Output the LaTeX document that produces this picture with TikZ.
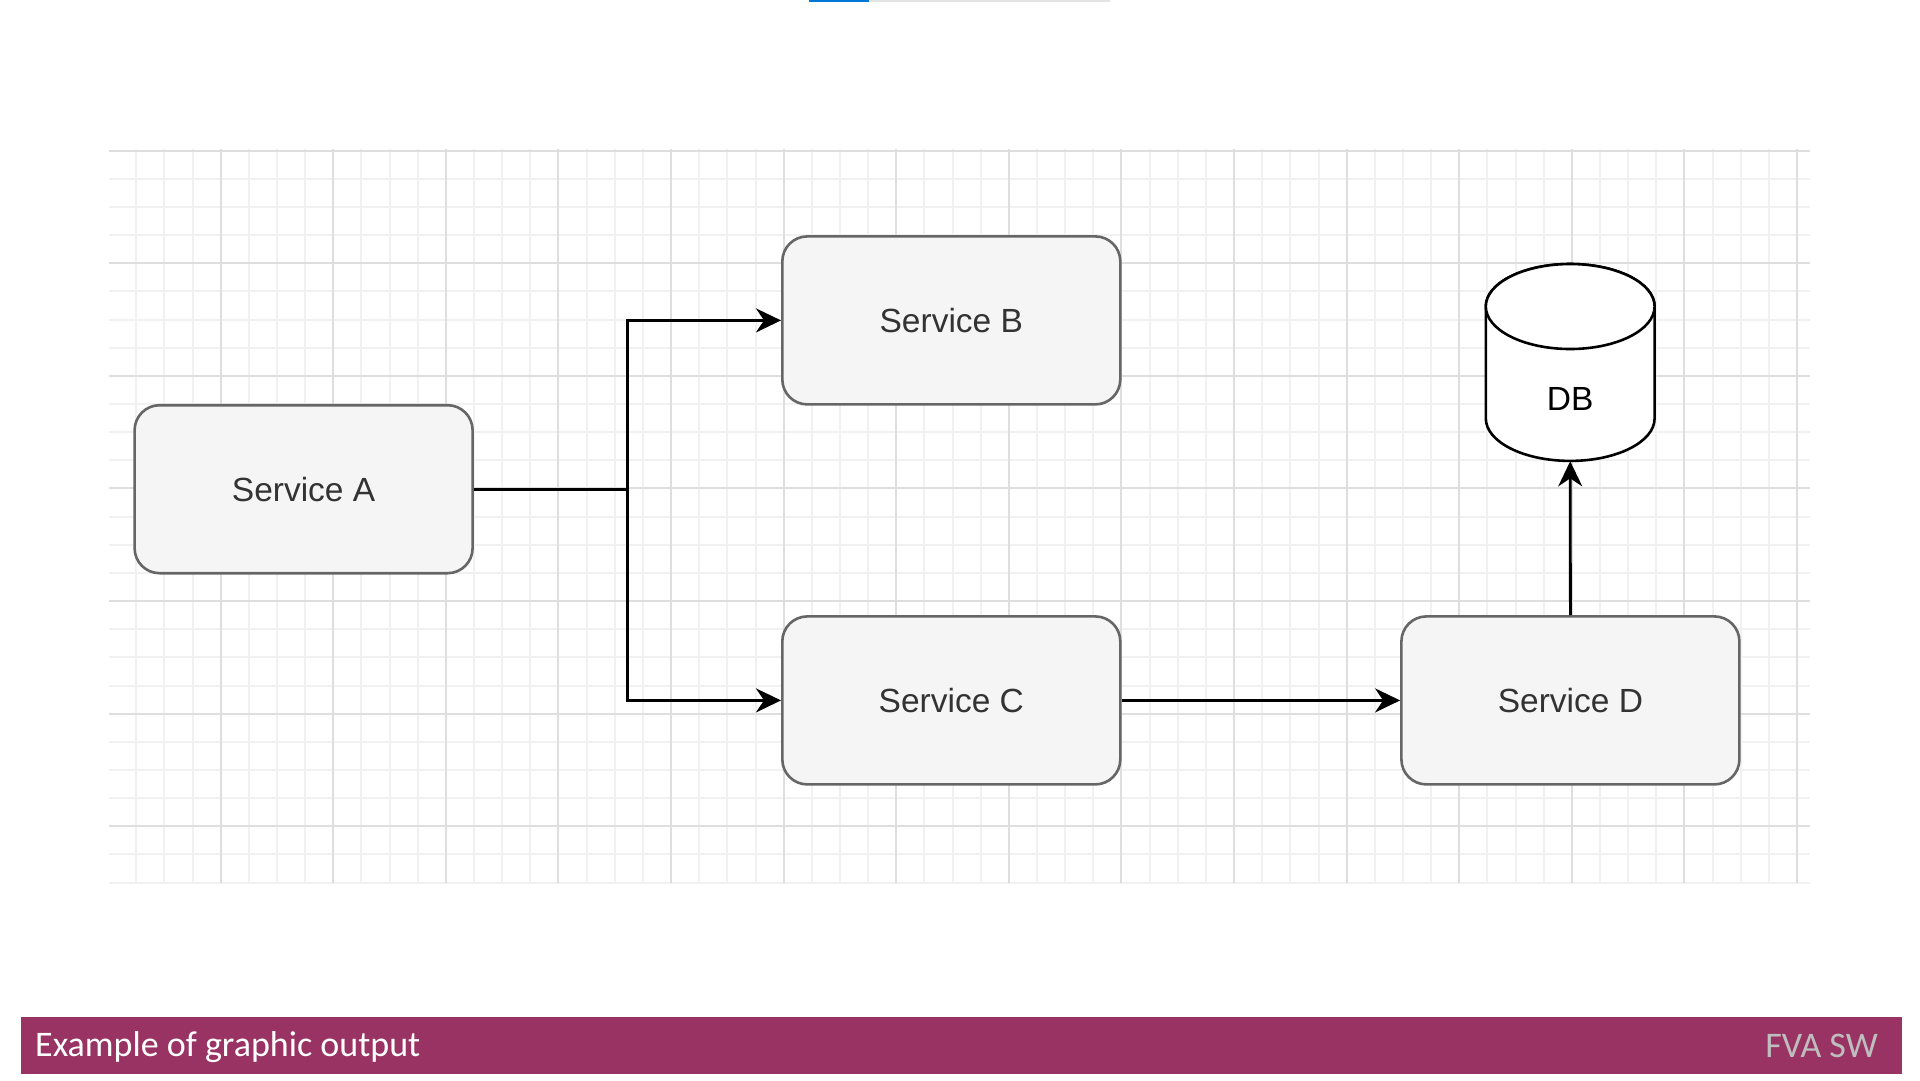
\documentclass[tikz,border=0pt]{standalone}
\usepackage{fontspec}
\setmainfont{Liberation Sans}
\newfontfamily\footfont{Carlito}
\usetikzlibrary{arrows.meta}
\definecolor{boxfill}{HTML}{F5F5F5}
\definecolor{boxline}{HTML}{666666}
\definecolor{boxtext}{HTML}{333333}
\definecolor{gridmajor}{HTML}{DEDEDE}
\definecolor{gridminor}{HTML}{F1F1F1}
\definecolor{barcol}{RGB}{153,51,99}
\definecolor{fvagrey}{RGB}{190,190,190}
\definecolor{progblue}{HTML}{0078D7}
\definecolor{proggrey}{HTML}{E3E3E3}
\tikzset{
  svc/.style={draw=boxline, fill=boxfill, line width=2.6pt, rounded corners=25pt,
    minimum width=338pt, minimum height=168pt, inner sep=0pt, text=boxtext,
    font=\fontsize{33.5}{40}\selectfont},
  conn/.style={line width=2.8pt, draw=black, -{Stealth[length=25pt,width=24pt,inset=8pt]}},
  plain/.style={line width=2.8pt, draw=black},
  gminor/.style={draw=gridminor, line width=2pt},
  gmajor/.style={draw=gridmajor, line width=2pt},
  cyl/.style={draw=black, line width=2.6pt, fill=white},
}
\begin{document}
\begin{tikzpicture}[x=1pt,y=-1pt]
\path[use as bounding box, fill=white] (0,0) rectangle (1920,1080);
% progress bar at top
\fill[proggrey] (869,0) rectangle (1110,2);
\fill[progblue] (809,0) rectangle (869,2);
% grid
\begin{scope}
\clip (109,149) rectangle (1810,883);
\foreach \i in {1,...,60} \draw[gminor] ({round(108.1+\i*28.15)},149) -- ({round(108.1+\i*28.15)},883);
\foreach \j in {1,...,26} \draw[gminor] (109,{round(150.7+\j*28.15)}) -- (1810,{round(150.7+\j*28.15)});
\foreach \i in {4,8,...,60} \draw[gmajor] ({round(108.1+\i*28.15)},149) -- ({round(108.1+\i*28.15)},883);
\foreach \j in {0,4,...,24} \draw[gmajor] (109,{round(150.7+\j*28.15)}) -- (1810,{round(150.7+\j*28.15)});
\end{scope}
% nodes
\node[svc] (a) at (303.6,489.2) {Service A};
\node[svc] (b) at (951.3,320.4) {Service B};
\node[svc] (c) at (951.3,700.4) {Service C};
\node[svc] (d) at (1570.4,700.4) {Service D};
% database cylinder
\node[minimum width=169pt, minimum height=197pt, inner sep=0pt] (db) at (1570.2,362.6) {};
\path[cyl] (1485.8,306.5) -- (1485.8,418.4)
  arc[start angle=180, end angle=360, x radius=84.4pt, y radius=42.5pt]
  -- (1654.6,306.5)
  arc[start angle=0, end angle=180, x radius=84.4pt, y radius=42.5pt] -- cycle;
\draw[cyl] (1570.2,306.5) ellipse [x radius=84.4pt, y radius=42.5pt];
\node[font=\fontsize{33.5}{40}\selectfont, text=black, inner sep=0pt] (dbl) at (1570.2,399) {DB};
% connectors
\coordinate (j) at (627.7,489.2);
\draw[plain] (a.east) -- (j);
\draw[conn] (j) |- (b.west);
\draw[conn] (j) |- (c.west);
\draw[conn] (c.east) -- (d.west);
\draw[conn] (d.north) -- (db.south);
% footer bar
\fill[barcol] (21,1016.7) rectangle (1901.7,1074.3);
\node[anchor=base west, inner sep=0pt, text=white, font=\footfont\fontsize{36}{42}\selectfont] (ft) at (35,1056.7) {Example of graphic output};
\node[anchor=base east, inner sep=0pt, text=fvagrey, font=\footfont\fontsize{36}{42}\selectfont] (fva) at (1878,1057) {FVA SW};
\end{tikzpicture}
\end{document}
